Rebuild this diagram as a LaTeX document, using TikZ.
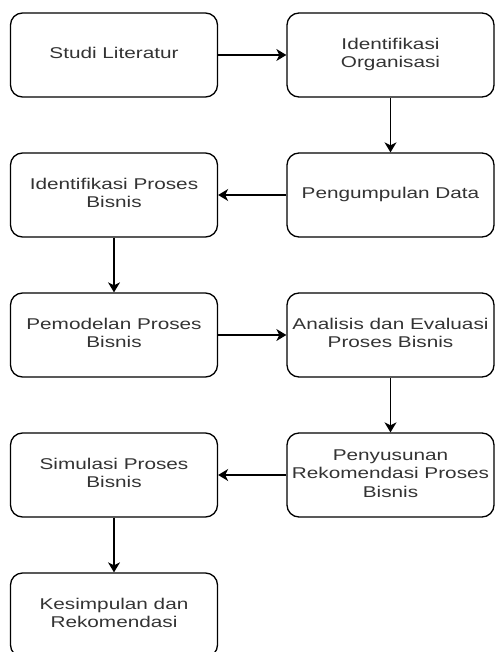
\documentclass[tikz,border=0pt]{standalone}
\usepackage{fontspec}
\setmainfont{Liberation Sans}
\usetikzlibrary{arrows.meta}
\newcommand\boxtext[1]{\scalebox{1.33}[1]{\begin{tabular}{@{}c@{}}#1\end{tabular}}}
\begin{document}
\begin{tikzpicture}[x=1pt,y=-1pt,
  procbox/.style={draw=black, line width=1.3pt, rounded corners=12pt,
    minimum width=207pt, minimum height=84pt, inner sep=0pt,
    text=black!80, font=\fontsize{15.6}{18.5}\selectfont},
  flow/.style={draw=black, line width=1.4pt, -{Stealth[length=10pt,width=12pt,inset=3pt]}}]
\useasboundingbox (0,0) rectangle (495,652);
\clip (0,0) rectangle (495,652);
\node[procbox] (studi) at (114,55) {\boxtext{Studi Literatur}};
\node[procbox] (idorg) at (390.5,55) {\boxtext{Identifikasi\\Organisasi}};
\node[procbox] (kumpul) at (390.5,195) {\boxtext{Pengumpulan Data}};
\node[procbox] (idpros) at (114,195) {\boxtext{Identifikasi Proses\\Bisnis}};
\node[procbox] (model) at (114,335) {\boxtext{Pemodelan Proses\\Bisnis}};
\node[procbox] (analisis) at (390.5,335) {\boxtext{Analisis dan Evaluasi\\Proses Bisnis}};
\node[procbox] (susun) at (390.5,475) {\boxtext{Penyusunan\\Rekomendasi Proses\\Bisnis}};
\node[procbox] (simul) at (114,475) {\boxtext{Simulasi Proses\\Bisnis}};
\node[procbox] (simpul) at (114,615) {\boxtext{Kesimpulan dan\\Rekomendasi}};
\draw[flow] (studi) -- (idorg);
\draw[flow] (idorg) -- (kumpul);
\draw[flow] (kumpul) -- (idpros);
\draw[flow] (idpros) -- (model);
\draw[flow] (model) -- (analisis);
\draw[flow] (analisis) -- (susun);
\draw[flow] (susun) -- (simul);
\draw[flow] (simul) -- (simpul);
\end{tikzpicture}
\end{document}
